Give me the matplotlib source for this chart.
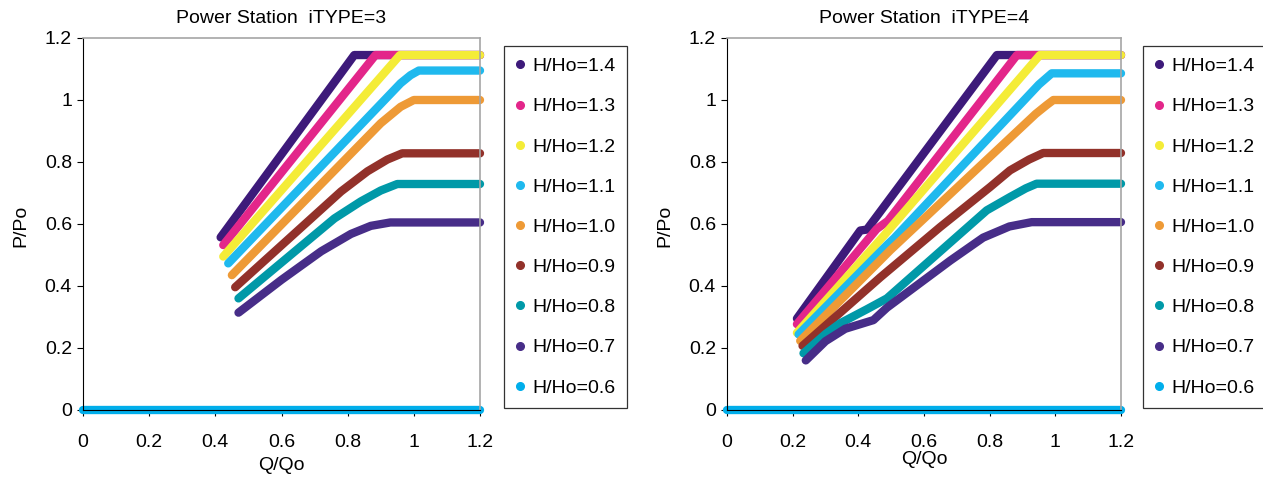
import matplotlib
matplotlib.use("Agg")
import matplotlib.pyplot as plt
from matplotlib.lines import Line2D

plt.rcParams["font.family"] = ["Liberation Sans", "DejaVu Sans"]

labels = ["H/Ho=1.4", "H/Ho=1.3", "H/Ho=1.2", "H/Ho=1.1", "H/Ho=1.0",
          "H/Ho=0.9", "H/Ho=0.8", "H/Ho=0.7", "H/Ho=0.6"]
colors = ["#3D1A7A", "#E3268A", "#F4EC37", "#1FB9EE", "#EE9A36",
          "#92312A", "#0099A8", "#472D88", "#00AEEB"]

# iTYPE=3
q3_14 = [0.416, 0.820, 1.2]
p3_14 = [0.557, 1.145, 1.145]
q3_13 = [0.424, 0.884, 1.2]
p3_13 = [0.532, 1.145, 1.145]
q3_12 = [0.424, 0.958, 1.2]
p3_12 = [0.495, 1.145, 1.145]
q3_11 = [0.439, 0.960, 0.99, 1.015, 1.2]
p3_11 = [0.473, 1.054, 1.080, 1.095, 1.095]
q3_10 = [0.450, 0.900, 0.960, 1.0, 1.2]
p3_10 = [0.435, 0.925, 0.978, 1.0, 1.0]
q3_09 = [0.460, 0.780, 0.860, 0.920, 0.965, 1.2]
p3_09 = [0.396, 0.705, 0.770, 0.808, 0.828, 0.828]
q3_08 = [0.470, 0.760, 0.840, 0.900, 0.950, 1.2]
p3_08 = [0.360, 0.618, 0.673, 0.708, 0.729, 0.729]
q3_07 = [0.470, 0.600, 0.720, 0.810, 0.870, 0.929, 1.2]
p3_07 = [0.314, 0.420, 0.512, 0.568, 0.594, 0.605, 0.605]
q3_06 = [0.0, 1.2]
p3_06 = [0.0, 0.0]

# iTYPE=4
q4_14 = [0.213, 0.406, 0.426, 0.822, 1.2]
p4_14 = [0.295, 0.579, 0.582, 1.145, 1.145]
q4_13 = [0.213, 0.456, 0.490, 0.883, 1.2]
p4_13 = [0.277, 0.584, 0.610, 1.145, 1.145]
q4_12 = [0.213, 0.480, 0.500, 0.953, 1.2]
p4_12 = [0.249, 0.565, 0.590, 1.145, 1.145]
q4_11 = [0.218, 0.490, 0.510, 0.950, 0.989, 1.2]
p4_11 = [0.244, 0.535, 0.555, 1.050, 1.086, 1.086]
q4_10 = [0.223, 0.497, 0.940, 0.974, 0.994, 1.2]
p4_10 = [0.223, 0.515, 0.955, 0.984, 1.0, 1.0]
q4_09 = [0.230, 0.467, 0.649, 0.801, 0.862, 0.920, 0.963, 1.2]
p4_09 = [0.207, 0.428, 0.590, 0.719, 0.773, 0.808, 0.829, 0.829]
q4_08 = [0.233, 0.300, 0.345, 0.426, 0.487, 0.791, 0.862, 0.910, 0.943, 1.2]
p4_08 = [0.183, 0.245, 0.280, 0.325, 0.360, 0.644, 0.687, 0.715, 0.730, 0.730]
q4_07 = [0.240, 0.300, 0.360, 0.446, 0.487, 0.680, 0.780, 0.860, 0.928, 1.2]
p4_07 = [0.160, 0.222, 0.262, 0.290, 0.330, 0.482, 0.556, 0.592, 0.606, 0.606]
q4_06 = [0.0, 1.2]
p4_06 = [0.0, 0.0]

series3 = [(q3_14, p3_14), (q3_13, p3_13), (q3_12, p3_12), (q3_11, p3_11), (q3_10, p3_10),
           (q3_09, p3_09), (q3_08, p3_08), (q3_07, p3_07), (q3_06, p3_06)]
series4 = [(q4_14, p4_14), (q4_13, p4_13), (q4_12, p4_12), (q4_11, p4_11), (q4_10, p4_10),
           (q4_09, p4_09), (q4_08, p4_08), (q4_07, p4_07), (q4_06, p4_06)]

ticks = [0, 0.2, 0.4, 0.6, 0.8, 1, 1.2]
tick_labels = ["0", "0.2", "0.4", "0.6", "0.8", "1", "1.2"]

fs = 14
fig = plt.figure(figsize=(12.63, 4.79), dpi=100)
W, H = 1263, 479


def draw(rect, series, title, ylab_x, xlab_y, leg_x):
    ax = fig.add_axes(rect)
    for (q, p), c in zip(series, colors):
        ax.plot(q, p, color=c, lw=6, solid_capstyle="round",
                solid_joinstyle="round", clip_on=False)
    ax.set_xlim(0, 1.2)
    ax.set_ylim(0, 1.2)
    ax.set_xticks(ticks)
    ax.set_xticklabels(tick_labels)
    ax.set_yticks(ticks)
    ax.set_yticklabels(tick_labels)
    ax.tick_params(direction="out", length=4, width=0.8, labelsize=fs, pad=4)
    ax.tick_params(axis="x", pad=13)
    for s in ["left", "bottom"]:
        ax.spines[s].set_color("black")
        ax.spines[s].set_linewidth(0.8)
    for s in ["top", "right"]:
        ax.spines[s].set_color("#A6A6A6")
        ax.spines[s].set_linewidth(1.2)
    ax.set_title(title, fontsize=fs, pad=11)
    ax.set_ylabel("P/Po", fontsize=fs)
    ax.yaxis.set_label_coords(ylab_x, 0.495)
    ax.set_xlabel("Q/Qo", fontsize=fs)
    ax.xaxis.set_label_coords(0.5, xlab_y)

    handles = [Line2D([], [], marker="o", ls="none", color=c, markersize=5.5)
               for c in colors]
    leg = fig.legend(handles, labels, loc="upper left",
                     bbox_to_anchor=(leg_x / W, 1 - 46 / H), fontsize=fs,
                     frameon=True, fancybox=False, borderpad=0.6,
                     handlelength=0.45, handletextpad=0.4, labelspacing=1.16,
                     borderaxespad=0)
    leg.get_frame().set_edgecolor("black")
    leg.get_frame().set_linewidth(0.9)
    return ax


draw([83 / W, 1 - 410 / H, 397 / W, 372 / H], series3, "Power Station  iTYPE=3",
     -0.134, -0.126, 504)
draw([727 / W, 1 - 410 / H, 394 / W, 372 / H], series4, "Power Station  iTYPE=4",
     -0.135, -0.11, 1143)

fig.savefig("out.png", dpi=100, facecolor="white")
